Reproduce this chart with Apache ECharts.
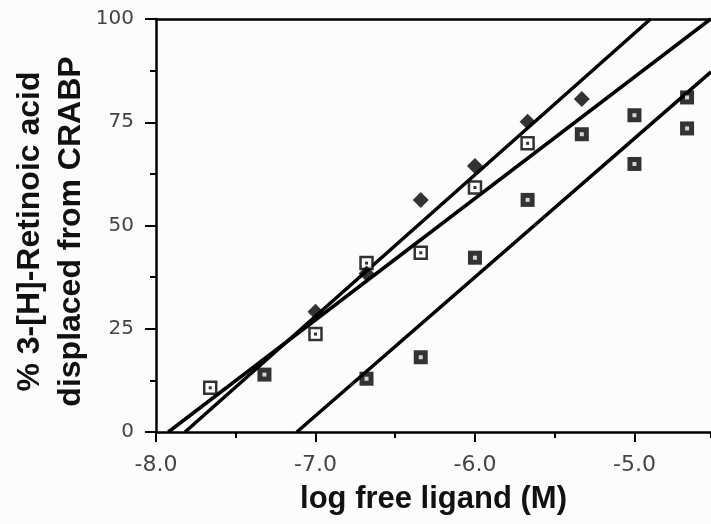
<!DOCTYPE html>
<html>
<head>
<meta charset="utf-8">
<style>html,body{margin:0;padding:0;background:#fcfcfc;}#chart{width:711px;height:524px;}</style>
<script src="https://cdn.jsdelivr.net/npm/echarts@6/dist/echarts.min.js"></script>
</head>
<body>
<div id="chart"></div>
<script>
// Data
const xTicks = [-8.0, -7.0, -6.0, -5.0];
const yTicks = [0, 25, 50, 75, 100];

// open squares (hollow with dot)
const openX = [-7.66, -7.0, -6.68, -6.34, -6.0, -5.67];
const openY = [10.7, 23.7, 40.9, 43.4, 59.2, 69.9];

// filled diamonds
const diamondX = [-7.0, -6.68, -6.34, -6.0, -5.67, -5.33];
const diamondY = [29.1, 38.4, 56.2, 64.4, 75.1, 80.6];

// filled squares (dark with white dot)
const filledX = [-7.32, -6.68, -6.34, -6.0, -5.67, -5.33, -5.0, -5.0, -4.67, -4.67];
const filledY = [13.9, 12.9, 18.1, 42.2, 56.2, 72.1, 76.7, 64.9, 81.0, 73.5];

// regression line end points
const fitAX = [-7.818, -4.899], fitAY = [0, 100];
const fitBX = [-7.923, -4.522], fitBY = [0, 100];
const fitCX = [-7.117, -4.52], fitCY = [0, 87.2];

const X_MIN = -8, X_MAX = -4.52;

const zip = (xs, ys) => xs.map((x, i) => [x, ys[i]]);

const chart = echarts.init(document.getElementById('chart'), null, {renderer: 'canvas'});

const lineSeries = (xs, ys) => ({
  type: 'line', data: zip(xs, ys), symbol: 'none', z: 2,
  lineStyle: {color: '#000', width: 3.5}, xAxisIndex: 0, yAxisIndex: 0, silent: true
});

chart.setOption({
  animation: false,
  backgroundColor: '#fcfcfc',
  grid: {left: 156, right: 0, top: 19, bottom: 92, containLabel: false, outerBoundsMode: 'none'},
  xAxis: [
    {
      type: 'value', min: X_MIN, max: X_MAX, interval: 1, position: 'bottom',
      axisLine: {show: true, onZero: false, lineStyle: {color: '#000', width: 2.5}},
      axisTick: {show: true, inside: false, length: 10, lineStyle: {color: '#000', width: 2}},
      axisLabel: {
        margin: 22, color: '#444', fontFamily: 'DejaVu Sans', fontSize: 22,
        showMaxLabel: false,
        formatter: v => xTicks.some(t => Math.abs(t - v) < 1e-6) ? v.toFixed(1) : ''
      },
      splitLine: {show: false},
      name: 'log free ligand (M)', nameLocation: 'middle', nameGap: 52, nameMoveOverlap: false,
      nameTextStyle: {color: '#111', fontFamily: 'Liberation Sans', fontWeight: 'bold', fontSize: 31}
    },
    {
      type: 'value', min: X_MIN, max: X_MAX, position: 'top',
      axisLine: {show: true, onZero: false, lineStyle: {color: '#000', width: 2.5}},
      axisTick: {show: false}, axisLabel: {show: false}, splitLine: {show: false}
    },
    {
      type: 'value', min: X_MIN, max: X_MAX, interval: 0.5, position: 'bottom',
      axisLine: {show: false, onZero: false},
      axisTick: {show: true, inside: false, length: 6, lineStyle: {color: '#000', width: 2}},
      axisLabel: {show: false}, splitLine: {show: false}
    }
  ],
  yAxis: {
    type: 'value', min: 0, max: 100, interval: 25,
    axisLine: {show: true, onZero: false, lineStyle: {color: '#000', width: 2.5}},
    axisTick: {show: true, inside: false, length: 11, lineStyle: {color: '#000', width: 2}},
    minorTick: {show: true, splitNumber: 2, length: 6, lineStyle: {color: '#000', width: 2}},
    axisLabel: {
      margin: 22, color: '#444', fontFamily: 'DejaVu Sans', fontSize: 20,
      formatter: v => yTicks.includes(v) ? String(v) : ''
    },
    splitLine: {show: false},
    name: '% 3-[H]-Retinoic acid\ndisplaced from CRABP',
    nameLocation: 'middle', nameRotate: 90, nameGap: 64, nameMoveOverlap: false,
    nameTextStyle: {
      color: '#111', fontFamily: 'Liberation Sans', fontWeight: 'bold', fontSize: 32,
      lineHeight: 41, align: 'center', padding: [0, 12, 0, 0]
    }
  },
  series: [
    lineSeries(fitAX, fitAY),
    lineSeries(fitBX, fitBY),
    lineSeries(fitCX, fitCY),
    {
      type: 'scatter', data: zip(openX, openY), symbol: 'rect', symbolSize: 12, z: 3,
      itemStyle: {color: '#fcfcfc', borderColor: '#000', borderWidth: 2.5}
    },
    {
      type: 'scatter', data: zip(openX, openY), symbol: 'rect', symbolSize: 3, z: 4,
      itemStyle: {color: '#000'}
    },
    {
      type: 'scatter', data: zip(diamondX, diamondY), symbol: 'diamond', symbolSize: [16, 16], z: 3,
      itemStyle: {color: '#000'}
    },
    {
      type: 'scatter', data: zip(filledX, filledY), symbol: 'rect', symbolSize: 14, z: 3,
      itemStyle: {color: '#000'}
    },
    {
      type: 'scatter', data: zip(filledX, filledY), symbol: 'rect', symbolSize: 4, z: 4,
      itemStyle: {color: '#fcfcfc'}
    }
  ]
});
</script>
</body>
</html>
